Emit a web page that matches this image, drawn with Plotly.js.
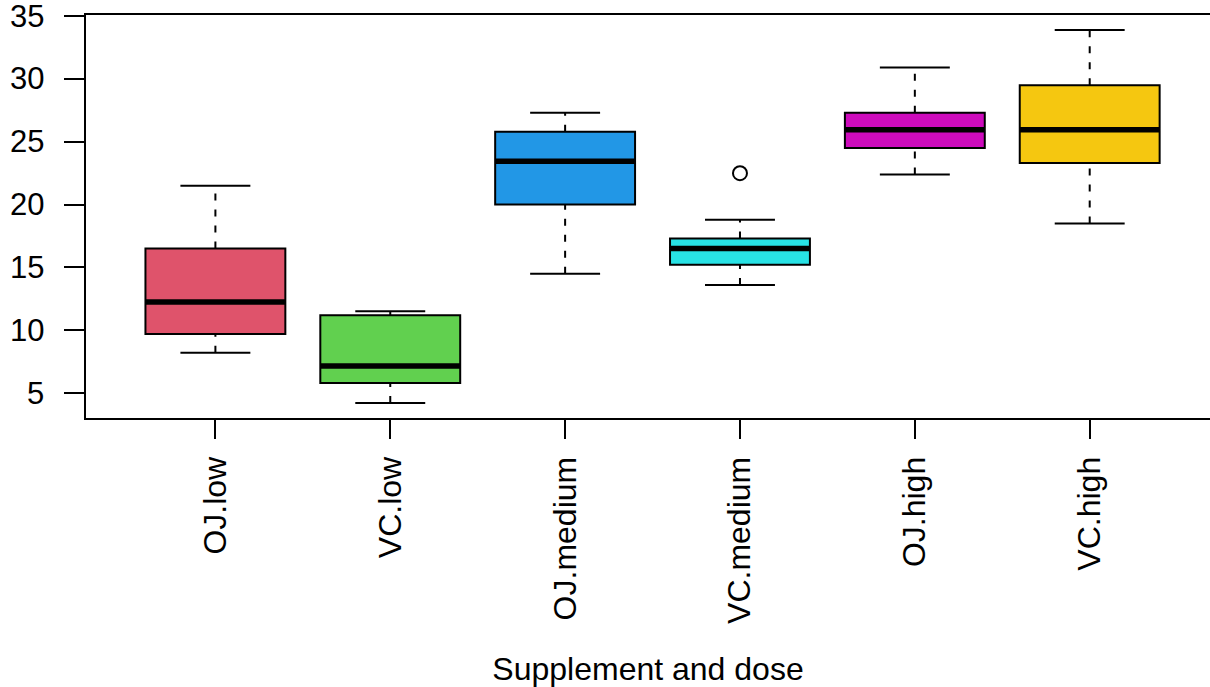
<!DOCTYPE html>
<html>
<head>
<meta charset="utf-8">
<script src="https://cdn.plot.ly/plotly-3.0.1.min.js"></script>
<style>
  html, body { margin: 0; padding: 0; background: #ffffff; overflow: hidden; }
  #chart { width: 1210px; height: 687px; }
</style>
</head>
<body>
<div id="chart"></div>
<script>
// Tooth length by supplement type and dose: five-number summaries per group
const groups = ["OJ.low", "VC.low", "OJ.medium", "VC.medium", "OJ.high", "VC.high"];
const lowerWhisker = [8.2, 4.2, 14.5, 13.6, 22.4, 18.5];
const q1 = [9.7, 5.8, 20.0, 15.2, 24.5, 23.3];
const median = [12.25, 7.15, 23.45, 16.5, 25.95, 25.95];
const q3 = [16.5, 11.2, 25.8, 17.3, 27.3, 29.5];
const upperWhisker = [21.5, 11.5, 27.3, 18.8, 30.9, 33.9];
const outlierGroup = ["VC.medium"];
const outlierValue = [22.5];
const yTicks = [5, 10, 15, 20, 25, 30, 35];

const fills = ["#DF536B", "#61D04F", "#2297E6", "#28E2E5", "#CD0BBC", "#F5C710"];

const BOX_HALF = 0.4;
const STAPLE_HALF = 0.2;
const pos = groups.map((g, i) => i + 1);

const traces = [];

// dashed whiskers from the hinges out to the extreme non-outlying values
const wx = [], wy = [];
pos.forEach((p, i) => {
  wx.push(p, p, null, p, p, null);
  wy.push(lowerWhisker[i], q1[i], null, q3[i], upperWhisker[i], null);
});
traces.push({
  type: "scatter", mode: "lines", x: wx, y: wy, hoverinfo: "skip",
  line: { color: "#000000", width: 2, dash: "7px,9px" }, showlegend: false
});

// whisker staples
const sx = [], sy = [];
pos.forEach((p, i) => {
  sx.push(p - STAPLE_HALF, p + STAPLE_HALF, null, p - STAPLE_HALF, p + STAPLE_HALF, null);
  sy.push(lowerWhisker[i], lowerWhisker[i], null, upperWhisker[i], upperWhisker[i], null);
});
traces.push({
  type: "scatter", mode: "lines", x: sx, y: sy, hoverinfo: "skip",
  line: { color: "#000000", width: 2 }, showlegend: false
});

// boxes (hinge to hinge)
pos.forEach((p, i) => {
  traces.push({
    type: "box", name: groups[i], x: [p],
    q1: [q1[i]], median: [median[i]], q3: [q3[i]],
    lowerfence: [q1[i]], upperfence: [q3[i]],
    width: 2 * BOX_HALF, fillcolor: fills[i],
    line: { color: "#000000", width: 2 },
    whiskerwidth: 0, boxpoints: false, showlegend: false
  });
});

// heavy median bars
const mx = [], my = [];
pos.forEach((p, i) => {
  mx.push(p - BOX_HALF, p + BOX_HALF, null);
  my.push(median[i], median[i], null);
});
traces.push({
  type: "scatter", mode: "lines", x: mx, y: my, hoverinfo: "skip",
  line: { color: "#000000", width: 5.5 }, showlegend: false
});

// outlying observations
traces.push({
  type: "scatter", mode: "markers",
  x: outlierGroup.map(g => groups.indexOf(g) + 1), y: outlierValue,
  marker: { symbol: "circle-open", size: 14, color: "#000000", line: { width: 2, color: "#000000" } },
  showlegend: false
});

const family = "Liberation Sans, Arial, Helvetica, sans-serif";
const font = { family: family, size: 32, color: "#000000" };
const yFont = { family: family, size: 31, color: "#000000" };

// y tick labels set a fixed distance left of the tick marks
const yLabels = yTicks.map(v => ({
  xref: "paper", yref: "y", x: 0, y: v,
  xanchor: "right", yanchor: "middle", xshift: -40,
  text: String(v), showarrow: false, font: yFont
}));

// the plotting frame runs past the right edge of the page, so only the
// left, bottom and top sides are drawn
const layout = {
  width: 1210, height: 687,
  margin: { l: 86, r: 0, t: 15, b: 269 },
  paper_bgcolor: "#ffffff", plot_bgcolor: "#ffffff",
  font: font,
  boxmode: "overlay",
  showlegend: false,
  annotations: yLabels,
  xaxis: {
    range: [0.26, 6.688],
    tickvals: pos, ticktext: groups, tickangle: -90,
    ticks: "outside", ticklen: 19, tickwidth: 2, tickcolor: "#000000",
    ticklabelstandoff: 5,
    showline: true, mirror: true, linecolor: "#000000", linewidth: 2,
    showgrid: false, zeroline: false,
    tickfont: font,
    title: { text: "Supplement and dose", font: font, standoff: 43 }
  },
  yaxis: {
    range: [3.012, 35.088],
    tickvals: yTicks, showticklabels: false,
    ticks: "outside", ticklen: 20, tickwidth: 2, tickcolor: "#000000",
    showline: true, mirror: false, linecolor: "#000000", linewidth: 2,
    showgrid: false, zeroline: false
  }
};

Plotly.newPlot("chart", traces, layout, { displayModeBar: false, staticPlot: true });
</script>
</body>
</html>
